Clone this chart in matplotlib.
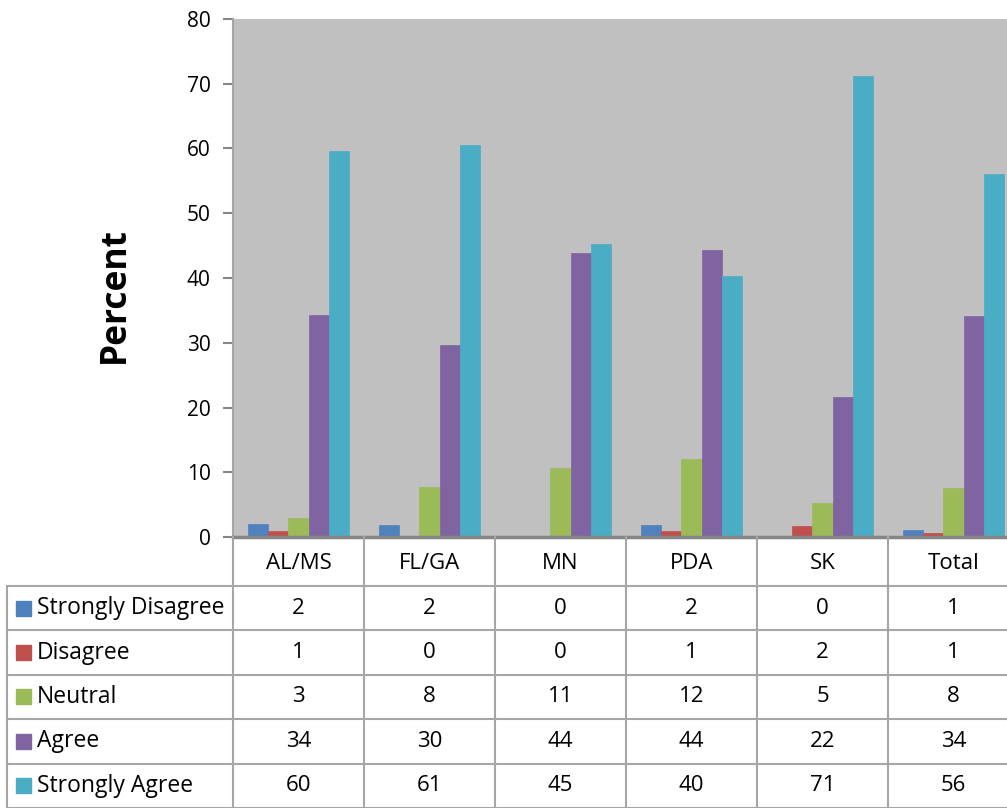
import matplotlib.pyplot as plt
from matplotlib.patches import Rectangle

plt.rcParams['font.family'] = ['Open Sans', 'DejaVu Sans']

regions = ['AL/MS', 'FL/GA', 'MN', 'PDA', 'SK', 'Total']
series = ['Strongly Disagree', 'Disagree', 'Neutral', 'Agree', 'Strongly Agree']
colors = ['#4F81BD', '#C0504D', '#9BBB59', '#8064A2', '#4BACC6']

strongly_disagree = [2.0, 1.9, 0.0, 1.9, 0.0, 1.1]
disagree = [1.0, 0.0, 0.0, 0.9, 1.7, 0.6]
neutral = [3.0, 7.7, 10.6, 12.0, 5.3, 7.6]
agree = [34.3, 29.7, 43.9, 44.3, 21.6, 34.2]
strongly_agree = [59.6, 60.6, 45.2, 40.3, 71.2, 56.1]
values = [strongly_disagree, disagree, neutral, agree, strongly_agree]

W, H = 1007, 808
fig = plt.figure(figsize=(W / 100, H / 100), dpi=100)

# main chart, right edge runs past the figure like the original crop
ax = fig.add_axes([233 / W, (H - 537) / H, 786 / W, 518 / H])
ax.set_facecolor('#C0C0C0')
bw = 0.153
for j, (name, vals, c) in enumerate(zip(series, values, colors)):
    xs = [i + (j - 2) * bw for i in range(len(regions))]
    ax.bar(xs, vals, width=bw, color=c, edgecolor=c, linewidth=0.5, zorder=2)

ax.set_xlim(-0.5, len(regions) - 0.5)
ax.set_ylim(0, 80)
ax.set_yticks(range(0, 81, 10))
ax.set_xticks([])
ax.tick_params(axis='y', labelsize=15, length=7, width=1.5, color='#868686', pad=9)
for s in ['top', 'right']:
    ax.spines[s].set_visible(False)
ax.spines['left'].set_color('#A6A6A6')
ax.spines['left'].set_linewidth(1.5)
ax.spines['bottom'].set_color('#868686')
ax.spines['bottom'].set_linewidth(2.5)
ax.set_ylabel('Percent', fontsize=25.5, fontweight='bold')
ax.yaxis.set_label_coords(-100 / 786, 0.467)

# data table below the chart
tb = fig.add_axes([7 / W, 0, 1012 / W, 271 / H])
label_w = 226 / 131
tb.set_xlim(-0.5 - label_w, len(regions) - 0.5)
tb.set_ylim(6.1, 0)
tb.axis('off')
line = dict(color='#A6A6A6', lw=1.5, clip_on=False)
x0 = -0.5 - label_w
x1 = len(regions) - 0.5
# header row
for i in range(len(regions) + 1):
    tb.plot([i - 0.5, i - 0.5], [0, 6.1], **line)
for i, r in enumerate(regions):
    tb.text(i, 0.6, r, ha='center', va='center', fontsize=16)
# body rows
for k in range(len(series) + 1):
    y = 1.1 + k
    tb.plot([x0, x1], [y, y], **line)
tb.plot([x0, x0], [1.1, 6.1], **line)
for k, (name, vals, c) in enumerate(zip(series, values, colors)):
    yc = 1.6 + k
    tb.add_patch(Rectangle((x0 + 9 / 131, yc - 0.17), 15 / 131, 0.34,
                           color=c, clip_on=False))
    tb.text(x0 + 30 / 131, yc, name, ha='left', va='center', fontsize=16.5)
    for i, v in enumerate(vals):
        tb.text(i, yc, f'{v:.0f}', ha='center', va='center', fontsize=16)

fig.savefig('out.png', dpi=100)
